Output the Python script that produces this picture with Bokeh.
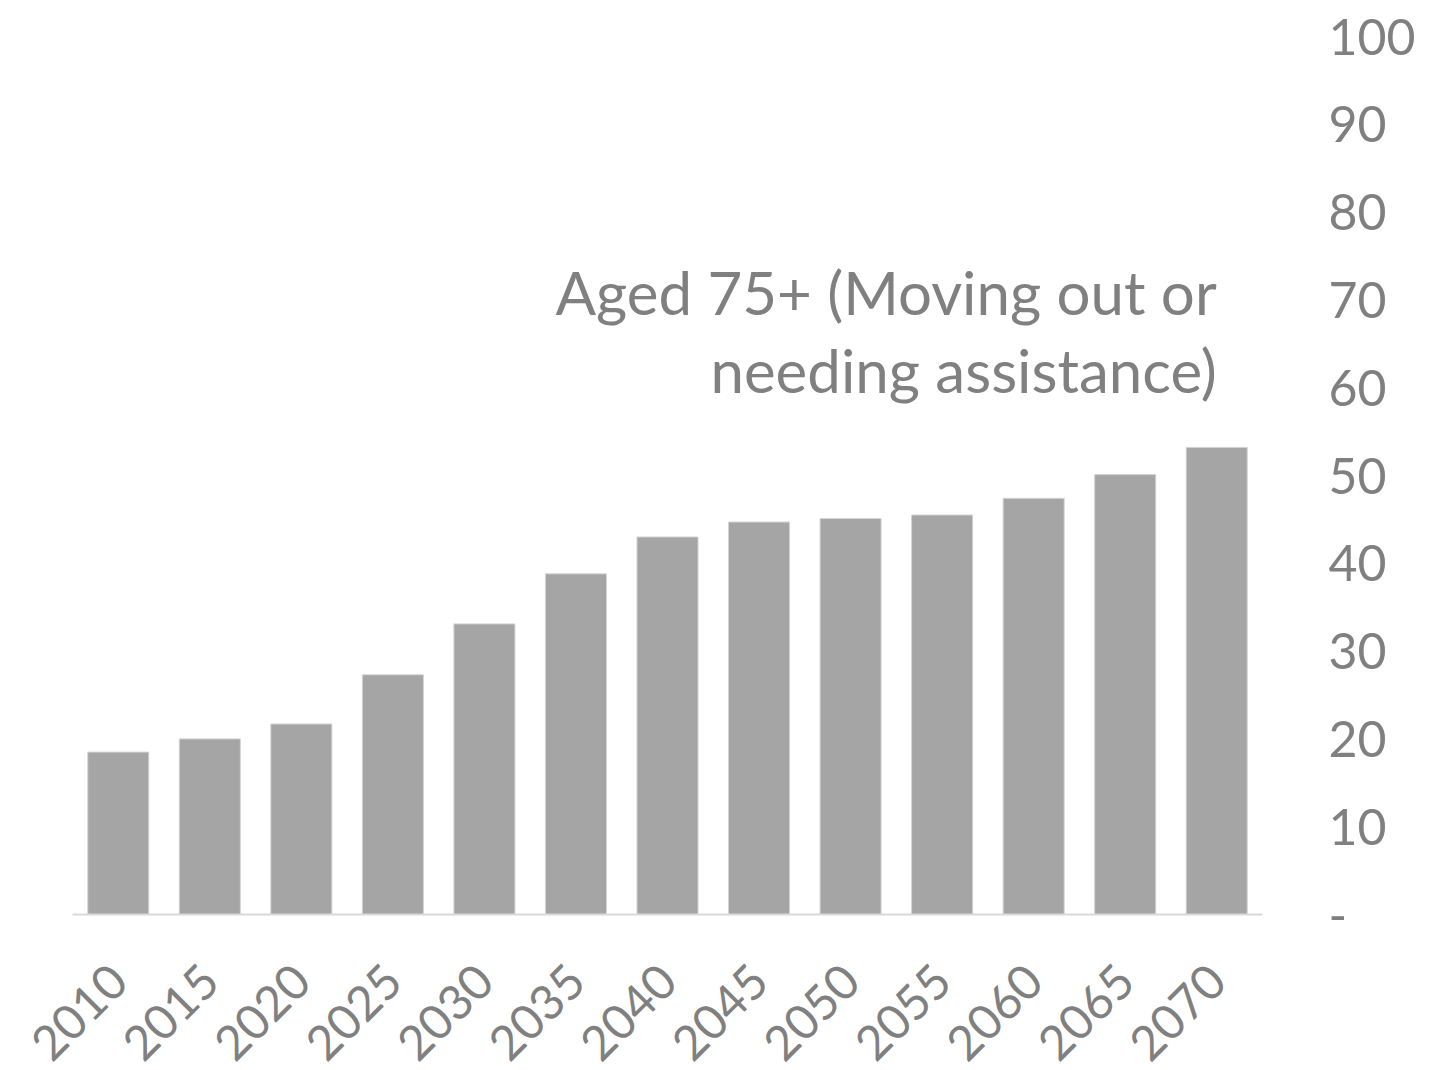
import math
from bokeh.plotting import figure
from bokeh.models import LinearAxis, Range1d, FactorRange, FixedTicker, ColumnDataSource
from bokeh.core.properties import value
from bokeh.embed import file_html
from bokeh.resources import INLINE

years = ["2010", "2015", "2020", "2025", "2030", "2035", "2040",
         "2045", "2050", "2055", "2060", "2065", "2070"]
aged75 = [18.5, 20.0, 21.7, 27.3, 33.1, 38.8, 43.0, 44.7, 45.1, 45.5, 47.4, 50.1, 53.2]
y_ticks = [0, 10, 20, 30, 40, 50, 60, 70, 80, 90, 100]
label_lines = ["Aged 75+ (Moving out or", "needing assistance)"]
label_y = [70.9, 62.0]

FONT = "Lato"
GREY = "#808080"

p = figure(x_range=FactorRange(*years), y_range=Range1d(0, 100),
           frame_width=1190, frame_height=878,
           min_border_left=72, min_border_top=36, min_border_right=10, min_border_bottom=10,
           output_backend="svg", toolbar_location=None, y_axis_location=None)
p.outline_line_color = None
p.xgrid.grid_line_color = None
p.ygrid.grid_line_color = None
p.background_fill_color = "white"
p.border_fill_color = "white"

src = ColumnDataSource(dict(x=years, top=aged75))
p.vbar(x="x", top="top", bottom=0, width=0.667, source=src,
       fill_color="#A5A5A5", line_color="#D4D4D4", line_width=1)

# x axis
xa = p.xaxis[0]
xa.axis_line_color = "#D9D9D9"
xa.axis_line_width = 2
xa.major_tick_line_color = None
xa.minor_tick_line_color = None
xa.major_label_orientation = math.pi / 4
xa.major_label_text_font = FONT
xa.major_label_text_font_size = "48px"
xa.major_label_text_color = GREY
xa.major_label_standoff = 52

# right y axis
ya = LinearAxis(ticker=FixedTicker(ticks=y_ticks))
ya.axis_line_color = None
ya.major_tick_line_color = None
ya.minor_tick_line_color = None
ya.major_label_text_font = FONT
ya.major_label_text_font_size = "50px"
ya.major_label_text_color = GREY
ya.major_label_standoff = 60
ya.major_label_overrides = {0: "-"}
p.add_layout(ya, "right")

tsrc = ColumnDataSource(dict(x=["2070", "2070"], y=label_y, t=label_lines))
p.text(x="x", y="y", text="t", source=tsrc, text_align="right",
       text_baseline="alphabetic", text_font=value(FONT),
       text_font_size="60px", text_color=GREY)

open("out.html", "w").write(file_html(p, INLINE))
